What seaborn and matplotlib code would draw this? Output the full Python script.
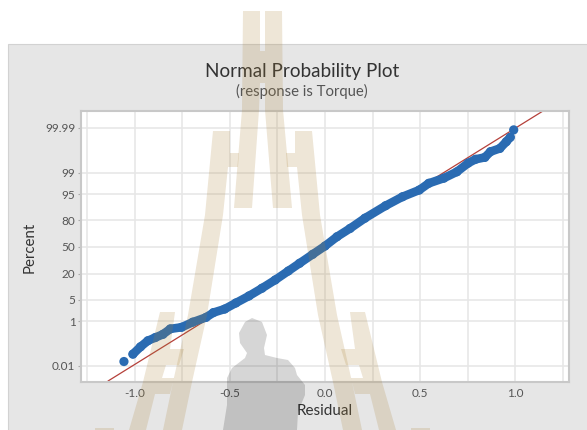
from statistics import NormalDist

import matplotlib
matplotlib.use('Agg')
import matplotlib.pyplot as plt
from matplotlib.patches import Polygon, Rectangle
import pandas as pd
import seaborn as sns

# residuals and their normal scores
residual = [-1.058, -1.011, -0.971, -0.932, -0.893, -0.853, -0.814, -0.755, -0.696, -0.626,
            -0.587, -0.528, -0.469, -0.400, -0.332, -0.262, -0.193, -0.134, -0.065, 0.000,
            0.063, 0.132, 0.210, 0.319, 0.408, 0.496, 0.546, 0.625, 0.694,
            0.753, 0.792, 0.841, 0.871, 0.920, 0.954, 0.975, 0.993]
score = [-3.58, -3.35, -3.12, -2.93, -2.83, -2.73, -2.56, -2.51, -2.35, -2.20,
         -2.05, -1.94, -1.75, -1.53, -1.29, -1.03, -0.75, -0.51, -0.23, 0.03,
         0.32, 0.58, 0.90, 1.29, 1.57, 1.78, 1.99, 2.15, 2.35,
         2.62, 2.74, 2.80, 2.98, 3.08, 3.29, 3.43, 3.66]

fit_x = [-1.142, 1.147]
fit_y = [-4.19, 4.25]

percent_ticks = [0.01, 1, 5, 20, 50, 80, 95, 99, 99.99]
percent_labels = ['0.01', '1', '5', '20', '50', '80', '95', '99', '99.99']
residual_ticks = [-1.0, -0.5, 0.0, 0.5, 1.0]
residual_labels = ['-1.0', '-0.5', '0.0', '0.5', '1.0']
grid_minor = [-1.25, -0.75, -0.25, 0.25, 0.75, 1.25]

W, H = 587, 430
BLUE = '#2A6BB2'
FONT = 'Lato'

sns.set_theme(style='whitegrid')
plt.rcParams['font.family'] = [FONT, 'DejaVu Sans']

fig = plt.figure(figsize=(W / 100, H / 100), dpi=100, facecolor='white')


def fx(x):
    return x / W


def fy(y):
    return 1 - y / H


# grey panel behind the plot
fig.patches.append(Rectangle((fx(8), fy(H + 5)), 1, fy(44) - fy(H + 5), transform=fig.transFigure,
                             facecolor='#E6E6E6', edgecolor='#D2D2D2', lw=0.8, zorder=-5))

ax = fig.add_axes([fx(81), fy(382), fx(569 - 81), fy(111) - fy(382)])
ax.set_facecolor('white')

df = pd.DataFrame({'residual': residual, 'score': score})
sns.lineplot(data=pd.DataFrame({'x': fit_x, 'y': fit_y}), x='x', y='y', ax=ax, color='#B5403A',
             lw=0.9, zorder=2)
sns.lineplot(data=df.iloc[1:-1], x='residual', y='score', ax=ax, color=BLUE, lw=6.2, sort=False,
             estimator=None, zorder=3, solid_joinstyle='round', solid_capstyle='round')
sns.scatterplot(data=df, x='residual', y='score', ax=ax, color=BLUE, s=44, edgecolor='none', zorder=4)

ax.set_xlim(-1.284, 1.284)
ax.set_ylim(-4.22, 4.25)
ax.set_xticks(residual_ticks, labels=residual_labels)
ax.set_xticks(grid_minor, minor=True)
ax.set_yticks([NormalDist().inv_cdf(p / 100) for p in percent_ticks], labels=percent_labels)
ax.grid(True, which='both', color='#E6E6E6', lw=1.1)
ax.set_axisbelow(True)
ax.tick_params(axis='x', which='both', length=0, pad=4, labelsize=8.5, labelcolor='#555555')
ax.tick_params(axis='y', length=2, width=0.8, color='#AAAAAA', pad=2, left=True, labelsize=8.5,
               labelcolor='#555555')
ax.set_xlabel('')
ax.set_ylabel('')
for s in ax.spines.values():
    s.set_color('#C8C8C8')
    s.set_linewidth(1.5)

fig.text(fx(302), fy(71), 'Normal Probability Plot', ha='center', va='center', fontsize=13.6, color='#333333')
fig.text(fx(302), fy(91.5), '(response is Torque)', ha='center', va='center', fontsize=10.7, color='#555555')
fig.text(fx(325), fy(411), 'Residual', ha='center', va='center', fontsize=11, color='#333333')
fig.text(fx(30), fy(247), 'Percent', ha='center', va='center', rotation=90, fontsize=10.8, color='#333333')

# watermark, left half outlines in image pixels and mirrored about the spire
AXIS = 262.5
spire = [(243, 11), (260, 11), (260, 51), (265, 51), (265, 11), (282, 11), (283, 110), (292, 208),
         (273, 208), (265, 110), (265, 83), (260, 83), (259, 110), (252, 208), (234, 208), (242, 110)]
band = [(213, 131), (230, 131), (230, 153), (239, 153), (238, 167), (228, 167), (223, 215), (207, 315),
        (192, 382), (182, 430), (163, 430), (173, 382), (188, 315), (205, 215)]
wing = [(160, 312), (175, 312), (170, 349), (184, 349), (179, 365), (166, 365), (162, 378), (174, 378),
        (170, 394), (155, 394), (146, 430), (129, 430), (143, 382)]
bottom = [(95, 428), (114, 428), (114, 432), (95, 432)]


def add_shape(pts):
    fig.patches.append(Polygon([(fx(x), fy(y)) for x, y in pts], closed=True, transform=fig.transFigure,
                               facecolor=(0.667, 0.51, 0.216), edgecolor='none', alpha=0.2, zorder=5))


add_shape(spire)
for shape in (band, wing, bottom):
    add_shape(shape)
    add_shape([(2 * AXIS - x, y) for x, y in shape])

person = [(245, 322), (252, 318), (262, 322), (267, 335), (264, 348), (265, 355), (277, 358), (288, 360),
          (295, 368), (297, 375), (305, 385), (305, 395), (298, 412), (297, 430), (223, 430), (227, 405),
          (227, 378), (232, 368), (245, 358), (247, 353), (240, 343), (239, 333)]
fig.patches.append(Polygon([(fx(x), fy(y)) for x, y in person], closed=True, transform=fig.transFigure,
                           facecolor='black', edgecolor='none', alpha=0.16, zorder=5))

fig.savefig('out.png', dpi=100)
